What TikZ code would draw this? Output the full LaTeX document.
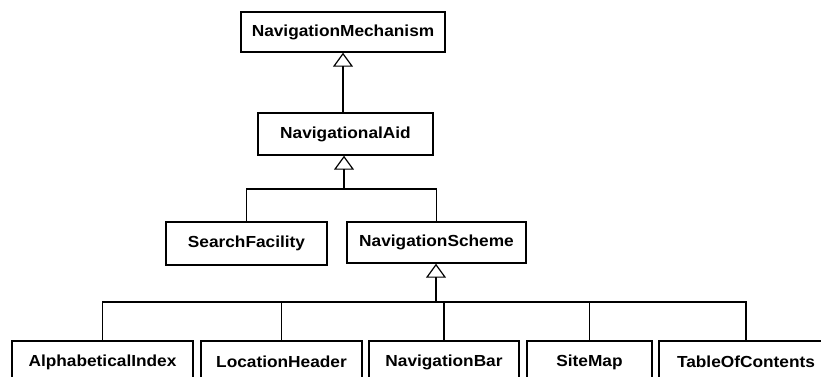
\documentclass[tikz,border=0pt]{standalone}
\usepackage{fontspec}
\setmainfont{Liberation Sans}
\newfontfamily\classfont[FakeStretch=1.08]{Liberation Sans}
\usetikzlibrary{arrows.meta}
\begin{document}
\begin{tikzpicture}[x=1pt,y=-1pt,
  cls/.style={draw, line width=1.4pt, fill=white, inner sep=0pt,
    font=\classfont\fontsize{16}{18}\selectfont\bfseries},
  link/.style={line width=1.2pt},
  gen/.style={link, -{Triangle[open, length=14pt, width=20pt, line width=1.2pt]}},
  trunk/.style={gen, line width=2pt}]
\useasboundingbox (0,0) rectangle (821,376);
\begin{scope}
\clip (0,0) rectangle (821,376);
% class boxes
\node[cls, minimum width=204pt, minimum height=40pt] (nm) at (343,32) {NavigationMechanism};
\node[cls, minimum width=175pt, minimum height=42pt] (na) at (345.5,134) {NavigationalAid};
\node[cls, minimum width=161pt, minimum height=43pt] (sf) at (246.5,243.5) {SearchFacility};
\node[cls, minimum width=179pt, minimum height=41pt] (ns) at (436.5,242.5) {NavigationScheme};
\node[cls, minimum width=181pt, minimum height=42pt] (ai) at (102.5,362) {AlphabeticalIndex};
\node[cls, minimum width=161pt, minimum height=42pt] (lh) at (281.5,362) {LocationHeader};
\node[cls, minimum width=150pt, minimum height=42pt] (nb) at (444,362) {NavigationBar};
\node[cls, minimum width=125pt, minimum height=42pt] (sm) at (589.5,362) {SiteMap};
\node[cls, minimum width=174pt, minimum height=42pt] (toc) at (746,362) {TableOfContents};
% junction points
\coordinate (j1) at (344,189);
\coordinate (j2) at (436,302);
% generalisations
\draw[gen] (nm.south |- na.north) -- (nm.south);
\draw[link] (sf.north) |- (ns.north |- j1) -- (ns.north);
\draw[gen] (j1) -- (j1 |- na.south);
\draw[link] (ai.north) |- (toc.north |- j2) -- (toc.north);
\draw[link] (lh.north) -- (lh.north |- j2);
\draw[link] (nb.north) -- (nb.north |- j2);
\draw[link] (sm.north) -- (sm.north |- j2);
\draw[trunk] (j2) -- (j2 |- ns.south);
\end{scope}
\end{tikzpicture}
\end{document}
